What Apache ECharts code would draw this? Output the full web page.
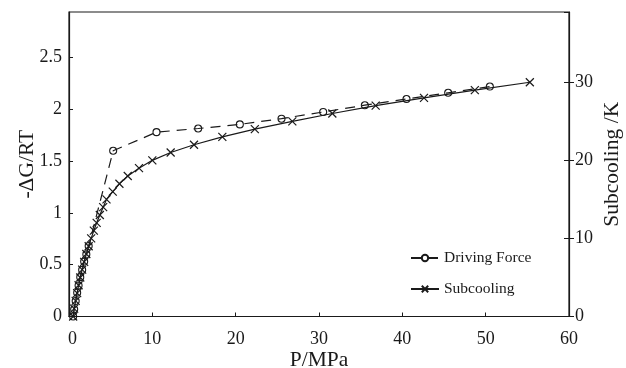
<!DOCTYPE html>
<html>
<head>
<meta charset="utf-8">
<script src="https://cdn.jsdelivr.net/npm/echarts@6/dist/echarts.min.js"></script>
<style>
  html, body { margin: 0; padding: 0; background: #fff; }
  #chart { width: 626px; height: 368px; }
</style>
</head>
<body>
<div id="chart"></div>
<script>
// Pressure (MPa) and driving force -ΔG/RT
const drivingP = [0.5, 0.62, 0.8, 0.98, 1.15, 1.35, 1.58, 1.82, 2.08, 2.36,
                  5.3, 10.5, 15.5, 20.5, 25.5, 30.5, 35.5, 40.5, 45.5, 50.5];
const drivingForce = [0.0, 0.07, 0.15, 0.23, 0.3, 0.38, 0.45, 0.53, 0.6, 0.68,
                      1.6, 1.78, 1.815, 1.855, 1.91, 1.975, 2.04, 2.1, 2.16, 2.22];

// Pressure (MPa) and subcooling (K)
const subP = [0.5, 0.62, 0.8, 0.98, 1.15, 1.35, 1.58, 1.82, 2.08, 2.36,
              2.66, 2.98, 3.32, 3.7, 4.1, 4.5, 5.25, 6.05, 7.05, 8.4,
              10.0, 12.2, 15.0, 18.4, 22.3, 26.8, 31.6, 36.8, 42.6, 48.7, 55.3];
const subcooling = [0, 1, 2, 3, 4, 5, 6, 7, 8, 9,
                    10, 11, 12, 13, 14, 15, 16, 17, 18, 19,
                    20, 21, 22, 23, 24, 25, 26, 27, 28, 29, 30];

const xTicks = [0, 10, 20, 30, 40, 50, 60];
const leftTicks = [0, 0.5, 1, 1.5, 2, 2.5];
const rightTicks = [0, 10, 20, 30];

const FONT = '"Liberation Serif", "DejaVu Serif", serif';
const INK = '#1a1a1a';
const CROSS = 'path://M0,0L10,10M10,0L0,10';

const zip = (a, b) => a.map((v, i) => [v, b[i]]);

const chart = echarts.init(document.getElementById('chart'));
chart.setOption({
  animation: false,
  backgroundColor: '#fff',
  textStyle: { fontFamily: FONT, color: INK },
  grid: {
    left: 69, right: 57, top: 12, bottom: 51.5,
    outerBoundsMode: 'none',
    containLabel: false,
    show: true, borderColor: INK, borderWidth: 1.2, backgroundColor: 'transparent'
  },
  legend: {
    orient: 'vertical',
    left: 405, top: 245,
    itemWidth: 28, itemHeight: 8, itemGap: 15,
    textStyle: { fontFamily: FONT, fontSize: 15.5, color: INK },
    data: ['Driving Force', 'Subcooling']
  },
  xAxis: {
    type: 'value',
    min: xTicks[0], max: xTicks[xTicks.length - 1], interval: 10,
    name: 'P/MPa', nameLocation: 'middle', nameGap: 33, nameMoveOverlap: false,
    nameTextStyle: { fontFamily: FONT, fontSize: 21.5, color: INK },
    axisLine: { lineStyle: { color: INK, width: 1.2 } },
    axisTick: { inside: true, length: 4, lineStyle: { color: INK } },
    axisLabel: {
      fontFamily: FONT, fontSize: 18, color: INK, margin: 14,
      formatter: v => v === 0 ? '{z|0}' : String(v),
      rich: { z: { fontFamily: FONT, fontSize: 18, color: INK, padding: [0, 0, 0, 7] } }
    },
    splitLine: { show: false }
  },
  yAxis: [
    {
      type: 'value',
      min: 0, max: 2.94, interval: 0.5,
      name: '-ΔG/RT', nameLocation: 'middle', nameGap: 31, nameMoveOverlap: false,
      nameTextStyle: { fontFamily: FONT, fontSize: 21.5, color: INK },
      axisLine: { show: true, lineStyle: { color: INK, width: 1.2 } },
      axisTick: { show: true, inside: true, length: 4, lineStyle: { color: INK } },
      axisLabel: { fontFamily: FONT, fontSize: 18, color: INK, margin: 7, showMaxLabel: false,
        formatter: v => leftTicks.includes(v) ? String(v) : '' },
      splitLine: { show: false }
    },
    {
      type: 'value',
      position: 'right',
      min: 0, max: 39, interval: 10,
      name: 'Subcooling /K', nameLocation: 'middle', nameGap: 32, nameRotate: 90,
      nameMoveOverlap: false,
      nameTextStyle: { fontFamily: FONT, fontSize: 21.5, color: INK },
      axisLine: { show: true, lineStyle: { color: INK, width: 1.2 } },
      axisTick: { show: true, inside: false, length: 5, lineStyle: { color: INK } },
      axisLabel: { fontFamily: FONT, fontSize: 18, color: INK, margin: 6, showMaxLabel: false,
        formatter: v => rightTicks.includes(v) ? String(v) : '' },
      splitLine: { show: false }
    },
    {
      // inner half of the crossing ticks on the right axis
      type: 'value',
      position: 'right',
      min: 0, max: 39, interval: 10,
      axisLine: { show: false },
      axisTick: { show: true, inside: true, length: 5, lineStyle: { color: INK } },
      axisLabel: { show: false },
      splitLine: { show: false }
    }
  ],
  series: [
    {
      name: 'Driving Force',
      type: 'line',
      yAxisIndex: 0,
      data: zip(drivingP, drivingForce),
      symbol: 'circle',
      symbolSize: 7,
      showAllSymbol: true,
      lineStyle: { color: INK, width: 1.2, type: [10, 7] },
      itemStyle: { color: 'rgba(255,255,255,0)', borderColor: INK, borderWidth: 1.1 },
      z: 3
    },
    {
      name: 'Subcooling',
      type: 'line',
      yAxisIndex: 1,
      data: zip(subP, subcooling),
      symbol: CROSS,
      symbolSize: 8,
      showAllSymbol: true,
      lineStyle: { color: INK, width: 1.2 },
      itemStyle: { color: INK, borderColor: INK, borderWidth: 1.2 },
      z: 2
    }
  ]
});
</script>
</body>
</html>
